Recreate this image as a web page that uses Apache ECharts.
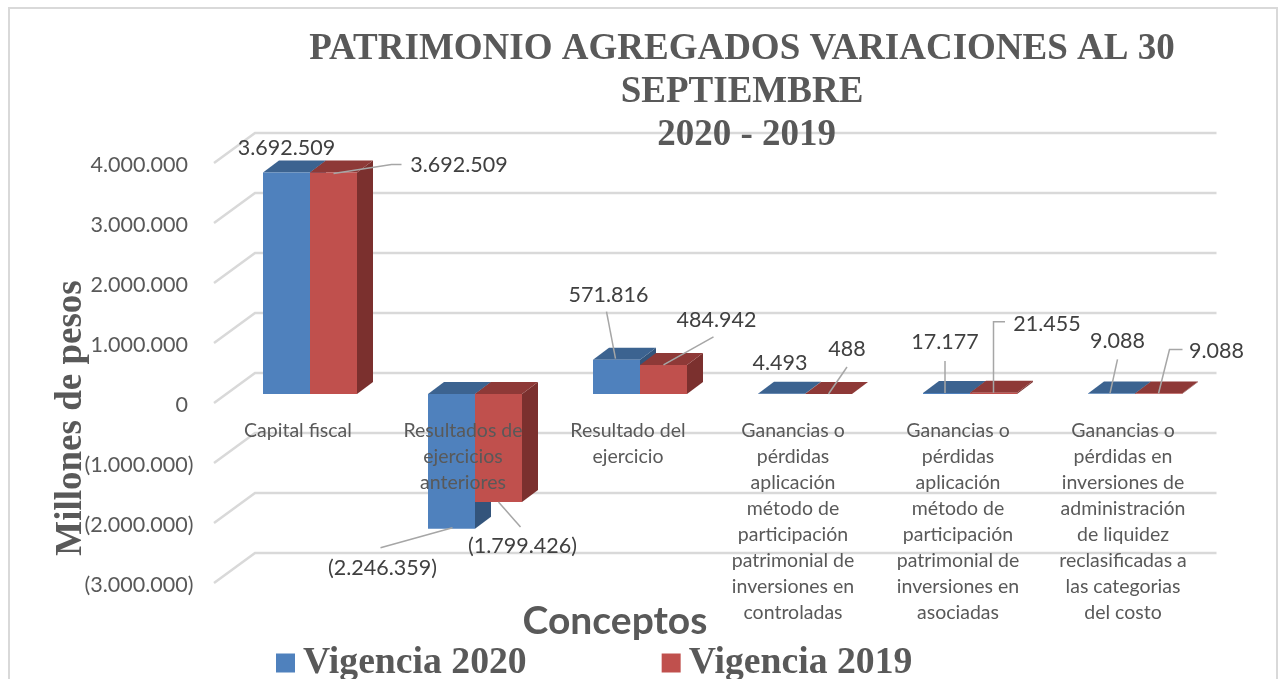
<!DOCTYPE html>
<html>
<head>
<meta charset="utf-8">
<style>
  html, body { margin: 0; padding: 0; background: #fff; }
  #main { width: 1280px; height: 679px; }
</style>
</head>
<body>
<div id="main"></div>
<script src="https://cdn.jsdelivr.net/npm/echarts@6/dist/echarts.min.js"></script>
<script>
const categories = [
  'Capital fiscal',
  'Resultados de\nejercicios\nanteriores',
  'Resultado del\nejercicio',
  'Ganancias o\npérdidas\naplicación\nmétodo de\nparticipación\npatrimonial de\ninversiones en\ncontroladas',
  'Ganancias o\npérdidas\naplicación\nmétodo de\nparticipación\npatrimonial de\ninversiones en\nasociadas',
  'Ganancias o\npérdidas en\ninversiones de\nadministración\nde liquidez\nreclasificadas a\nlas categorias\ndel costo'
]
const vigencia2020 = [3692509, -2246359, 571816, 4493, 17177, 9088]
const vigencia2019 = [3692509, -1799426, 484942, 488, 21455, 9088]
const yTicks = [4000000, 3000000, 2000000, 1000000, 0, -1000000, -2000000, -3000000]

// posicion de etiquetas y lineas guia, relativa a la cara frontal de cada barra
const labelOffset2020 = [[0, -24], [-69, 39], [-8, -65], [-1.5, -31], [-1.5, -51], [6, -52]]
const labelOffset2019 = [[125.5, -7], [24, 44], [53, -45], [18.5, -45], [53.5, -69], [58, -42]]
const leaders2020 = [
  [],
  [[-71, 19], [1, -1]],
  [[-10, -48], [-1, -1]],
  [],
  [[-1.5, -32], [-1.5, 0]],
  [[6, -34], [-1.5, 0]]
]
const leaders2019 = [
  [[0, 1], [58, -8], [68, -8]],
  [[22, 25], [0, 0]],
  [[50, -28], [0, 0]],
  [[18.5, -27], [0, 0]],
  [[11.5, -71], [0, -71], [0, 0]],
  [[24, -44], [11, -44], [0, 0]]
]

const textColor = '#595959'
const gridColor = '#D9D9D9'
const serif = '"Liberation Serif", serif'
const sans = 'Lato, sans-serif'

// efecto 3D de Excel
const depthX = 16
const depthY = -12
const floorShift = -9
const barWidth = 47
const wallX = 41
const wallY = -30

function formatValue(v) {
  const s = String(Math.abs(v)).replace(/\B(?=(\d{3})+(?!\d))/g, '.')
  return v < 0 ? '(' + s + ')' : s
}

function renderWall(params, api) {
  const y = api.coord([0, api.value(1)])[1]
  const x0 = params.coordSys.x - 13.5
  const x1 = x0 + wallX
  const x2 = params.coordSys.x + params.coordSys.width - 1
  return {
    type: 'polyline',
    silent: true,
    shape: { points: [[x0, y], [x1, y + wallY], [x2, y + wallY]] },
    style: { stroke: gridColor, lineWidth: 2.5, fill: null }
  }
}

function barRenderer(side, colors, offsets, leaders) {
  return function(params, api) {
    const i = api.value(0)
    const v = api.value(1)
    const cx = api.coord([i, v])[0]
    const x0 = side < 0 ? cx - barWidth : cx
    const x1 = x0 + barWidth
    const yBase = api.coord([i, 0])[1] + floorShift
    const yEnd = api.coord([i, v])[1] + floorShift
    const yTop = Math.min(yBase, yEnd)
    const yBot = Math.max(yBase, yEnd)
    const ax = (x0 + x1) / 2
    const children = [
      {
        type: 'polygon',
        shape: { points: [[x1, yTop], [x1 + depthX, yTop + depthY], [x1 + depthX, yBot + depthY], [x1, yBot]] },
        style: { fill: colors.side }
      },
      {
        type: 'polygon',
        shape: { points: [[x0, yTop], [x0 + depthX, yTop + depthY], [x1 + depthX, yTop + depthY], [x1, yTop]] },
        style: { fill: colors.top }
      },
      {
        type: 'rect',
        shape: { x: x0, y: yTop, width: barWidth, height: yBot - yTop },
        style: { fill: colors.front }
      }
    ]
    if (leaders[i].length) {
      children.push({
        type: 'polyline',
        shape: { points: leaders[i].map(p => [ax + p[0], yEnd + p[1]]) },
        style: { stroke: '#A6A6A6', lineWidth: 1.5, fill: null }
      })
    }
    children.push({
      type: 'text',
      style: {
        x: ax + offsets[i][0],
        y: yEnd + offsets[i][1],
        text: formatValue(v),
        align: 'center',
        verticalAlign: 'middle',
        fill: '#404040',
        font: '21.5px ' + sans
      }
    })
    return { type: 'group', silent: true, children: children }
  }
}

const myChart = echarts.init(document.getElementById('main'), null, { renderer: 'canvas' })
myChart.setOption({
  animation: false,
  backgroundColor: '#fff',
  title: [
    {
      text: 'PATRIMONIO AGREGADOS VARIACIONES AL 30\nSEPTIEMBRE\n 2020 - 2019',
      left: 737,
      top: 23,
      textAlign: 'center',
      textStyle: {
        color: textColor,
        fontFamily: serif,
        fontWeight: 'bold',
        fontSize: 37,
        lineHeight: 43
      }
    },
    {
      text: 'Conceptos',
      left: 610,
      top: 594,
      textAlign: 'center',
      textStyle: {
        color: textColor,
        fontFamily: sans,
        fontWeight: 'bold',
        fontSize: 39,
        lineHeight: 44
      }
    }
  ],
  legend: {
    data: ['Vigencia 2020', 'Vigencia 2019'],
    left: 276,
    top: 644,
    padding: 0,
    icon: 'rect',
    itemWidth: 19,
    itemHeight: 19,
    itemGap: 135,
    selectedMode: false,
    textStyle: {
      color: textColor,
      fontFamily: serif,
      fontWeight: 'bold',
      fontSize: 37.7,
      padding: [0, 0, 0, 3]
    }
  },
  grid: {
    left: 227.5,
    top: 163,
    width: 990,
    height: 420,
    outerBoundsMode: 'none'
  },
  xAxis: {
    type: 'category',
    data: categories,
    z: 10,
    offset: -180,
    axisLine: { show: false, onZero: false },
    axisTick: { show: false },
    axisLabel: {
      interval: 0,
      margin: 15,
      color: textColor,
      fontFamily: sans,
      fontSize: 19.5,
      lineHeight: 26,
      padding: [0, 24, 0, 0],
      hideOverlap: false
    }
  },
  yAxis: {
    type: 'value',
    min: -3000000,
    max: 4000000,
    interval: 1000000,
    axisLine: { show: false },
    axisTick: { show: false },
    splitLine: { show: false },
    axisLabel: {
      margin: 34,
      formatter: function(v) {
        return '{a|' + (v < 0 ? formatValue(v) : formatValue(v) + '\u00a0') + '}'
      },
      rich: {
        a: {
          color: textColor,
          fontFamily: sans,
          fontSize: 21.5,
          padding: [4, 0, 0, 0]
        }
      }
    }
  },
  graphic: [
    {
      type: 'rect',
      z: -10,
      silent: true,
      shape: { x: 9, y: 8, width: 1268, height: 700 },
      style: { fill: null, stroke: gridColor, lineWidth: 2 }
    },
    {
      type: 'text',
      z: 20,
      silent: true,
      x: 71,
      y: 418,
      rotation: Math.PI / 2,
      style: {
        text: 'Millones de pesos',
        align: 'center',
        verticalAlign: 'middle',
        fill: textColor,
        font: 'bold 37px ' + serif
      }
    }
  ],
  series: [
    {
      type: 'custom',
      name: 'paredes',
      clip: false,
      z: 1,
      renderItem: renderWall,
      data: yTicks.map(t => [0, t])
    },
    {
      type: 'custom',
      name: 'Vigencia 2020',
      clip: false,
      z: 2,
      itemStyle: { color: '#4F81BD' },
      renderItem: barRenderer(-1, { front: '#4F81BD', top: '#3C6390', side: '#33547B' }, labelOffset2020, leaders2020),
      data: vigencia2020.map((v, i) => [i, v])
    },
    {
      type: 'custom',
      name: 'Vigencia 2019',
      clip: false,
      z: 3,
      itemStyle: { color: '#C0504D' },
      renderItem: barRenderer(1, { front: '#C0504D', top: '#8E3937', side: '#7B302E' }, labelOffset2019, leaders2019),
      data: vigencia2019.map((v, i) => [i, v])
    }
  ]
})
</script>
</body>
</html>
